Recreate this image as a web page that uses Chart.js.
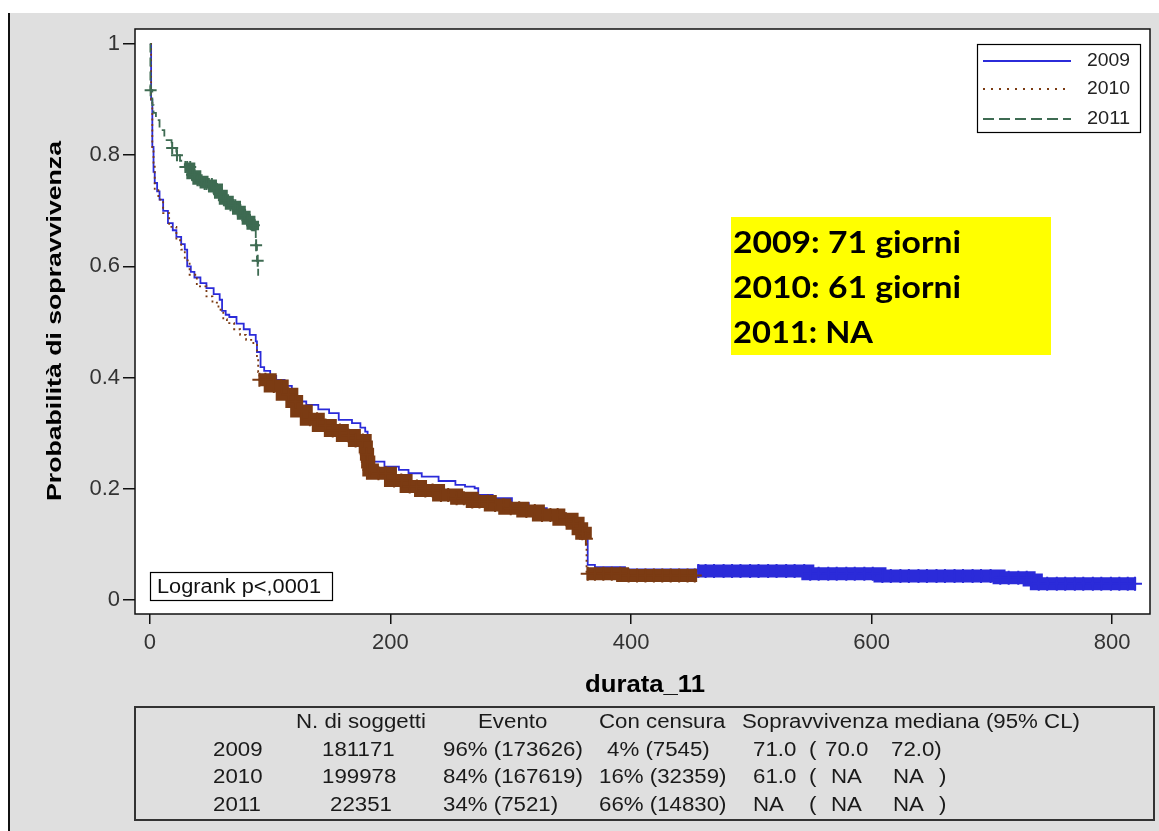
<!DOCTYPE html>
<html>
<head>
<meta charset="utf-8">
<script src="https://cdn.jsdelivr.net/npm/chart.js@4/dist/chart.umd.min.js"></script>
<style>
  html, body { margin: 0; padding: 0; background: #fff; }
  #km { display: block; }
</style>
</head>
<body>
<canvas id="km" width="1159" height="831"></canvas>
<script>
// ---- data ----
const years = ["2009", "2010", "2011"];

// Kaplan-Meier steps (time in days, survival)
const t2009 = [0, 1, 2, 3, 4, 6, 8, 11, 15, 19, 22, 26, 29, 31, 34, 37, 42, 47, 53, 58, 60, 63, 66, 72, 78, 83, 88, 89, 92, 95, 100, 105, 112, 118, 122, 130, 140, 149, 157, 168, 175, 179, 181, 182, 185, 195, 207, 215, 226, 240, 254, 262, 270, 273, 285, 301, 315, 330, 345, 356, 360, 364, 370, 395, 455, 547, 607, 706, 731, 737, 820];
const s2009 = [1, 0.9, 0.815, 0.77, 0.75, 0.735, 0.72, 0.70, 0.678, 0.665, 0.653, 0.64, 0.63, 0.60, 0.59, 0.58, 0.57, 0.561, 0.55, 0.54, 0.52, 0.513, 0.509, 0.497, 0.487, 0.477, 0.465, 0.446, 0.419, 0.412, 0.403, 0.396, 0.385, 0.375, 0.357, 0.351, 0.343, 0.336, 0.324, 0.318, 0.31, 0.303, 0.282, 0.252, 0.249, 0.24, 0.234, 0.228, 0.222, 0.214, 0.207, 0.204, 0.201, 0.189, 0.183, 0.174, 0.165, 0.156, 0.147, 0.138, 0.129, 0.063, 0.059, 0.055, 0.052, 0.047, 0.043, 0.040, 0.036, 0.029, 0.029];

const t2010 = [0, 1, 2, 3, 4, 7, 11, 16, 22, 26, 29, 33, 39, 47, 52, 57, 61, 64, 70, 75, 80, 86, 89, 90, 91, 100, 110, 118, 122, 130, 140, 150, 160, 170, 179, 180, 181, 182, 185, 200, 213, 225, 240, 255, 268, 283, 295, 310, 323, 340, 351, 356, 359, 362, 363, 393, 455];
const s2010 = [1, 0.9, 0.81, 0.785, 0.737, 0.72, 0.696, 0.671, 0.647, 0.63, 0.611, 0.585, 0.564, 0.546, 0.535, 0.522, 0.505, 0.498, 0.487, 0.477, 0.468, 0.459, 0.435, 0.41, 0.396, 0.385, 0.37, 0.357, 0.34, 0.325, 0.314, 0.305, 0.296, 0.287, 0.275, 0.262, 0.248, 0.234, 0.228, 0.215, 0.204, 0.197, 0.189, 0.183, 0.177, 0.171, 0.165, 0.16, 0.153, 0.145, 0.138, 0.128, 0.12, 0.11, 0.047, 0.044, 0.044];

const t2011 = [0, 0.4, 2, 3, 5, 8, 12, 18, 22, 25, 29, 34, 39, 45, 52, 57, 61, 66, 72, 76, 80, 84, 87, 88, 89, 90];
const s2011 = [1, 0.917, 0.89, 0.876, 0.863, 0.845, 0.827, 0.813, 0.80, 0.79, 0.779, 0.765, 0.755, 0.748, 0.741, 0.73, 0.719, 0.71, 0.701, 0.692, 0.683, 0.674, 0.665, 0.638, 0.61, 0.583];

// censoring times (+ marks)
const c2009 = [456, 462, 469, 477, 484, 491, 499, 506, 514, 521, 529, 536, 544, 549, 556, 564, 571, 579, 586, 594, 601, 609, 616, 624, 631, 639, 646, 654, 661, 669, 676, 684, 691, 699, 707, 714, 722, 729, 733, 739, 746, 754, 761, 769, 776, 784, 791, 799, 806, 813, 819];
const c2010 = [91, 96, 103, 109, 115, 121, 126, 133, 139, 146, 152, 158, 165, 171, 177, 180.2, 181.2, 182.5, 190, 196, 203, 209, 216, 222, 229, 235, 242, 248, 255, 261, 268, 274, 281, 287, 294, 300, 307, 313, 320, 326, 333, 339, 346, 352, 357, 359.5, 362.5, 364, 370, 377, 384, 391, 398, 405, 412, 419, 426, 433, 440, 447, 453];
const c2011 = [0.6, 18.5, 22.5, 29.5, 31, 33.5, 35, 37, 39.5, 41, 43, 45.5, 47, 49, 51.5, 53, 55, 57.5, 59, 61.5, 63, 65, 67, 69.5, 71, 73, 75, 77.5, 79, 81, 83, 85, 86.5, 88.3, 89.6];

// time spans where censoring is so dense the marks merge into a band
const dense2009 = [[455, 821]];
const dense2010 = [[91, 362], [363, 456]];
const dense2011 = [[29, 87]];

const xTicks = [0, 200, 400, 600, 800];
const yTicks = [0, 0.2, 0.4, 0.6, 0.8, 1];

const medianNotes = ["2009: 71 giorni", "2010: 61 giorni", "2011: NA"];
const logrankText = "Logrank p<,0001";

const tableHead = ["N. di soggetti", "Evento", "Con censura", "Sopravvivenza mediana (95% CL)"];
const nSubjects = ["181171", "199978", "22351"];
const nEvents = ["96% (173626)", "84% (167619)", "34% (7521)"];
const nCensored = ["4% (7545)", "16% (32359)", "66% (14830)"];
const medianDays = ["71.0", "61.0", "NA"];
const lowerCL = ["70.0", "NA", "NA"];
const upperCL = ["72.0", "NA", "NA"];

// ---- styles ----
const colors = ["#2b2bd9", "#7b3b13", "#3e6b52"];
const dashes = [[], [2, 3.5], [9, 5]];
const legendDashes = [[], [2, 6], [11, 5]];

function stepAt(ts, ss, t) {
  let v = ss[0];
  for (let i = 0; i < ts.length; i++) {
    if (ts[i] <= t) v = ss[i];
  }
  return v;
}

function pts(ts, ss) {
  return ts.map((t, i) => ({ x: t, y: ss[i] }));
}

function inDense(spans, x) {
  return spans.some((r) => x >= r[0] && x < r[1]);
}

const times = [t2009, t2010, t2011];
const surv = [s2009, s2010, s2011];
const cens = [c2009, c2010, c2011];
const dense = [dense2009, dense2010, dense2011];
const bandWidth = [13, 13, 9];
const crossSize = [7, 7, 6];

const datasets = [];
years.forEach((yr, k) => {
  datasets.push({
    type: "line",
    label: yr,
    data: pts(times[k], surv[k]),
    stepped: true,
    borderColor: colors[k],
    borderWidth: 1.8,
    borderDash: dashes[k],
    pointRadius: 0,
    fill: false,
    order: 2 - k + 0.5,
    segment: {
      borderWidth: (c) => (inDense(dense[k], c.p0.parsed.x) ? bandWidth[k] : 1.8),
      borderDash: (c) => (inDense(dense[k], c.p0.parsed.x) ? [] : dashes[k]),
    },
  });
  datasets.push({
    type: "scatter",
    label: yr + " censura",
    data: cens[k].map((t) => ({ x: t, y: stepAt(times[k], surv[k], t) })),
    pointStyle: "cross",
    pointRadius: crossSize[k],
    pointBorderWidth: 2,
    pointBorderColor: colors[k],
    pointBackgroundColor: colors[k],
    showLine: false,
    order: 2 - k,
  });
});

function drawScaled(ctx, str, x, y, sx) {
  ctx.save();
  ctx.translate(x, y);
  ctx.scale(sx, 1);
  ctx.fillText(str, 0, 0);
  ctx.restore();
}
function drawFit(ctx, str, x, y, w) {
  const m = ctx.measureText(str).width;
  drawScaled(ctx, str, x, y, w / m);
}

const pagePlugin = {
  id: "page",
  beforeDraw(chart) {
    const ctx = chart.ctx;
    const W = chart.width, H = chart.height;
    const a = chart.chartArea;
    ctx.save();
    ctx.fillStyle = "#fff";
    ctx.fillRect(0, 0, W, H);
    ctx.fillStyle = "#dfdfdf";
    ctx.fillRect(10, 13, W - 10, H - 13);
    ctx.fillStyle = "#111";
    ctx.fillRect(8, 13, 2, H - 13);
    ctx.fillStyle = "#fff";
    ctx.fillRect(a.left, a.top, a.right - a.left, a.bottom - a.top);
    ctx.restore();
  },
  afterDraw(chart) {
    const ctx = chart.ctx;
    const a = chart.chartArea;
    ctx.save();
    // plot frame
    ctx.strokeStyle = "#111";
    ctx.lineWidth = 1.5;
    ctx.strokeRect(a.left, a.top, a.right - a.left, a.bottom - a.top);

    // axis titles
    ctx.fillStyle = "#000";
    ctx.textBaseline = "middle";
    ctx.font = "bold 24px 'Liberation Sans', Arial, sans-serif";
    drawFit(ctx, "durata_11", 585, 685, 120);
    ctx.save();
    ctx.translate(55, 321);
    ctx.rotate(-Math.PI / 2);
    ctx.font = "bold 21px 'Liberation Sans', Arial, sans-serif";
    drawFit(ctx, "Probabilità di sopravvivenza", -180, 0, 360);
    ctx.restore();

    // legend
    ctx.fillStyle = "#fff";
    ctx.fillRect(977, 44, 163, 88);
    ctx.strokeStyle = "#000";
    ctx.lineWidth = 1.2;
    ctx.strokeRect(977.5, 44.5, 163, 88);
    const ly = [61, 89, 119];
    ctx.font = "18px 'Liberation Sans', Arial, sans-serif";
    years.forEach((yr, k) => {
      ctx.strokeStyle = colors[k];
      ctx.lineWidth = 2;
      ctx.setLineDash(legendDashes[k]);
      ctx.beginPath();
      ctx.moveTo(983, ly[k]);
      ctx.lineTo(1071, ly[k]);
      ctx.stroke();
      ctx.setLineDash([]);
      ctx.fillStyle = "#222";
      drawFit(ctx, yr, 1087, ly[k], 43);
    });

    // logrank box
    ctx.fillStyle = "#fff";
    ctx.fillRect(150, 572, 182, 28);
    ctx.strokeStyle = "#000";
    ctx.lineWidth = 1.2;
    ctx.strokeRect(150.5, 572.5, 182, 28);
    ctx.fillStyle = "#111";
    ctx.font = "20px 'Liberation Sans', Arial, sans-serif";
    drawFit(ctx, logrankText, 157, 587, 164);

    // yellow median box
    ctx.fillStyle = "#ffff00";
    ctx.fillRect(731, 217, 320, 138);
    ctx.fillStyle = "#000";
    ctx.textBaseline = "alphabetic";
    ctx.font = "bold 30px Lato, 'Open Sans', sans-serif";
    const nw = [228, 228, 140];
    const nb = [253, 298, 343];
    medianNotes.forEach((s, i) => drawFit(ctx, s, 733, nb[i], nw[i]));

    // table
    ctx.strokeStyle = "#333";
    ctx.lineWidth = 2;
    ctx.strokeRect(135, 707, 1019, 113);
    ctx.textBaseline = "middle";
    ctx.fillStyle = "#1a1a1a";
    ctx.font = "20px 'Liberation Sans', Arial, sans-serif";
    const sx = 130 / ctx.measureText(tableHead[0]).width;
    const headX = [296, 478, 599, 742];
    tableHead.forEach((s, i) => drawScaled(ctx, s, headX[i], 722, sx));
    const rowY = [750, 777, 805];
    const nX = [322, 322, 330];
    const cX = [607, 599, 599];
    years.forEach((yr, r) => {
      const y = rowY[r];
      drawScaled(ctx, yr, 213, y, sx);
      drawScaled(ctx, nSubjects[r], nX[r], y, sx);
      drawScaled(ctx, nEvents[r], 443, y, sx);
      drawScaled(ctx, nCensored[r], cX[r], y, sx);
      drawScaled(ctx, medianDays[r], 753, y, sx);
      drawScaled(ctx, "(", 809, y, sx);
      drawScaled(ctx, lowerCL[r], lowerCL[r] === "NA" ? 831 : 825, y, sx);
      if (upperCL[r] === "NA") {
        drawScaled(ctx, upperCL[r], 893, y, sx);
        drawScaled(ctx, ")", 939, y, sx);
      } else {
        drawScaled(ctx, upperCL[r] + ")", 891, y, sx);
      }
    });
    ctx.restore();
  },
};

const config = {
  type: "line",
  data: { datasets },
  options: {
    responsive: false,
    animation: false,
    devicePixelRatio: 1,
    layout: { padding: { top: 29, right: 6, bottom: 157, left: 0 } },
    plugins: {
      legend: { display: false },
      tooltip: { enabled: false },
    },
    scales: {
      x: {
        type: "linear",
        min: -12.4,
        max: 831.5,
        afterBuildTicks: (s) => { s.ticks = xTicks.map((v) => ({ value: v })); },
        afterFit: (s) => { s.height = 60; },
        grid: { drawOnChartArea: false, drawTicks: true, tickLength: 10, color: "#111", lineWidth: 1.5 },
        border: { display: false },
        ticks: {
          font: { family: "'Liberation Sans', Arial, sans-serif", size: 22 },
          color: "#333",
          padding: 6,
          maxRotation: 0,
          autoSkip: false,
          callback: (v) => String(v),
        },
      },
      y: {
        type: "linear",
        min: -0.0252,
        max: 1.027,
        afterBuildTicks: (s) => { s.ticks = yTicks.map((v) => ({ value: v })); },
        afterFit: (s) => { s.width = 135; },
        grid: { drawOnChartArea: false, drawTicks: true, tickLength: 12, color: "#111", lineWidth: 1.5 },
        border: { display: false },
        ticks: {
          font: { family: "'Liberation Sans', Arial, sans-serif", size: 22 },
          color: "#333",
          padding: 3,
          autoSkip: false,
          callback: (v) => String(v),
        },
      },
    },
  },
  plugins: [pagePlugin],
};

const kmChart = new Chart(document.getElementById("km"), config);
</script>
</body>
</html>
